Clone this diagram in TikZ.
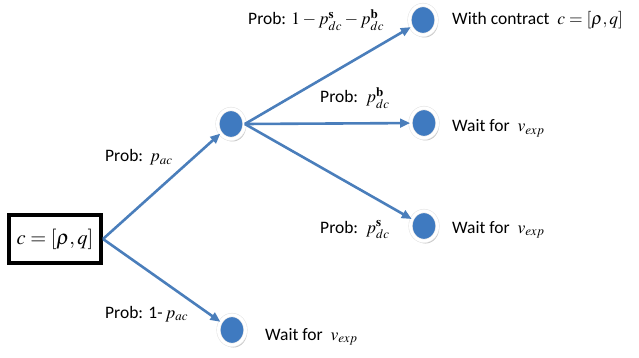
\documentclass[tikz,border=0pt]{standalone}
\usepackage{mathptmx}
\usepackage{fontspec}
\setmainfont{Carlito}
\usetikzlibrary{shapes.geometric,shadows,arrows.meta}
\definecolor{arrblue}{HTML}{4A7EBB}
\definecolor{dotblue}{HTML}{3F7AC0}
\tikzset{
  dot/.style={ellipse,fill=dotblue,draw=gray!20,double=white,double distance=3pt,line width=0.6pt,minimum width=27pt,minimum height=30pt,inner sep=0pt,
    drop shadow={shadow xshift=1.5pt,shadow yshift=-2.5pt,fill=gray!55,opacity=0.8}},
  arr/.style={draw=arrblue,line width=2.6pt,-{Triangle[length=10pt,width=8.5pt]}},
  lbl/.style={anchor=base west,inner sep=0pt,font=\fontsize{17.5}{20}\selectfont},
  box/.style={draw=black,line width=4pt,minimum width=92pt,minimum height=48pt,inner sep=0pt}
}
\begin{document}
\begin{tikzpicture}[x=1pt,y=-1pt]
\useasboundingbox (0,0) rectangle (639,358);
\node[box] (b) at (55,239) {\fontsize{20.5}{22}\selectfont$c=[\rho,q]$};
\node[dot] (m) at (231,124) {};
\node[dot] (t) at (423,20) {};
\node[dot] (r) at (424,123) {};
\node[dot] (s) at (424,226) {};
\node[dot] (w) at (232,330) {};
\draw[arr] (b.east) -- (m);
\draw[arr] (b.east) -- (w);
\draw[arr] (m.east) -- (t);
\draw[arr] (m.east) -- (r);
\draw[arr] (m.east) -- (s);
\node[lbl] (l1) at (105,162) {Prob:\ \ $\mathit{p}_{ac}$};
\node[lbl] (l2) at (105,318) {Prob: 1- $\mathit{p}_{ac}$};
\node[lbl] (l3) at (248,25) {Prob: $1-p_{dc}^{\mathbf{s}}-p_{dc}^{\mathbf{b}}$};
\node[lbl] (l4) at (320,103) {Prob:\ \ $p_{dc}^{\mathbf{b}}$};
\node[lbl] (l5) at (320,233) {Prob:\ \ $p_{dc}^{\mathbf{s}}$};
\node[lbl] (l6) at (452,25) {With contract \ $c=[\rho,q]$};
\node[lbl] (l7) at (452,132) {Wait for \ $v_{exp}$};
\node[lbl] (l8) at (452,233) {Wait for \ $v_{exp}$};
\node[lbl] (l9) at (265,340) {Wait for \ $v_{exp}$};
\end{tikzpicture}
\end{document}
